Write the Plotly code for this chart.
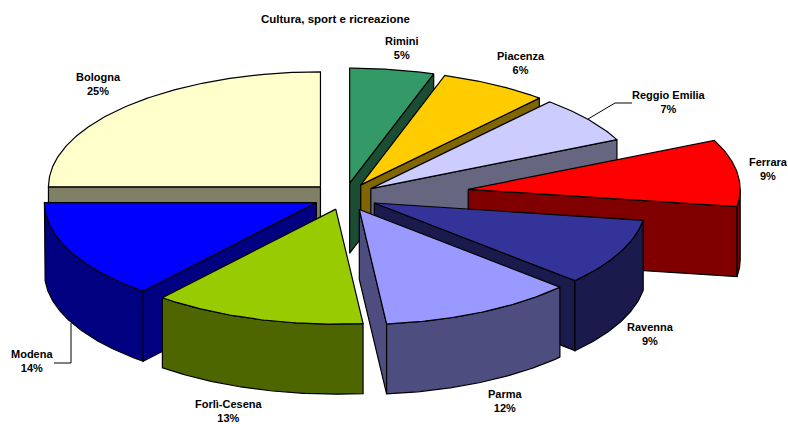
import math
import plotly.graph_objects as go

# --- data -------------------------------------------------------------
categories = ["Rimini", "Piacenza", "Reggio Emilia", "Ferrara", "Ravenna",
              "Parma", "Forlì-Cesena", "Modena", "Bologna"]
shares = [5.0, 6.4, 6.6, 9.4, 9.4, 11.6, 12.6, 14.0, 25.0]
title_text = "Cultura, sport e ricreazione"

# --- styling ----------------------------------------------------------
top_colors = ["#339966", "#FFCC00", "#CCCCFF", "#FF0000", "#333399",
              "#9999FF", "#99CC00", "#0000FF", "#FFFFCC"]
wall_colors = ["#1A4D33", "#806600", "#666680", "#800000", "#1A1A4D",
               "#4D4D80", "#4D6600", "#000080", "#808066"]
explode = [33, 33, 33, 125, 33, 33, 30, 31, 34]
label_pos = [(402, 48), (521, 63), (669, 102), (768, 169), (650, 334),
             (505, 401), (229, 411), (32, 361), (98, 84)]
draw_order = [8, 7, 6, 0, 1, 2, 3, 4, 5]
CX, CY, RX, RY, DEPTH = 344.5, 197, 272, 115, 70


def pt(ax, ay, deg):
    r = math.radians(deg)
    return ax + RX * math.sin(r), ay - RY * math.cos(r)


def add_poly(fig, pts, color, name):
    xs = [p[0] for p in pts] + [pts[0][0]]
    ys = [p[1] for p in pts] + [pts[0][1]]
    fig.add_trace(go.Scatter(x=xs, y=ys, mode="lines", fill="toself",
                             fillcolor=color,
                             line=dict(color="#000000", width=1.2),
                             name=name, showlegend=False, hoverinfo="name"))


def arc(ax, ay, a, b):
    n = max(2, int(abs(b - a)) * 2)
    return [pt(ax, ay, a + (b - a) * i / n) for i in range(n + 1)]


total = sum(shares)
starts, cum = [], 0.0
for s in shares:
    starts.append(cum / total * 360)
    cum += s

fig = go.Figure()
for i in draw_order:
    a = starts[i]
    b = a + shares[i] / total * 360
    mid = math.radians((a + b) / 2)
    ax = CX + explode[i] * math.sin(mid)
    ay = CY - explode[i] * RY / RX * math.cos(mid)
    name = categories[i]
    wall = wall_colors[i]

    # start radial wall faces the viewer for 180 < a < 360
    if 180 < a < 360:
        e = pt(ax, ay, a)
        add_poly(fig, [(ax, ay), e, (e[0], e[1] + DEPTH), (ax, ay + DEPTH)], wall, name)
    # end radial wall faces the viewer for 0 < b < 180
    if 0 < b < 180:
        e = pt(ax, ay, b)
        add_poly(fig, [(ax, ay), e, (e[0], e[1] + DEPTH), (ax, ay + DEPTH)], wall, name)
    # outer wall: only the part of the rim between 90 and 270 degrees
    lo, hi = max(a, 90), min(b, 270)
    if lo < hi:
        rim = arc(ax, ay, lo, hi)
        add_poly(fig, rim + [(x, y + DEPTH) for x, y in reversed(rim)], wall, name)
    # top face
    add_poly(fig, [(ax, ay)] + arc(ax, ay, a, b), top_colors[i], name)

annotations = [dict(x=335, y=19, text="<b>%s</b>" % title_text, showarrow=False,
                    xref="x", yref="y", font=dict(size=11.5, color="#000000",
                                                  family="Liberation Sans"))]
for name, s, (lx, ly) in zip(categories, shares, label_pos):
    annotations.append(dict(x=lx, y=ly, xref="x", yref="y", showarrow=False,
                            text="<b>%s<br>%d%%</b>" % (name, round(s)),
                            align="center",
                            font=dict(size=11, color="#000000",
                                      family="Liberation Sans")))

leader = dict(color="#000000", width=1)
shapes = [
    dict(type="path", path="M 588 119 L 615 103 L 632 103", line=leader, xref="x", yref="y"),
    dict(type="path", path="M 71 323 L 71 363 L 54 363", line=leader, xref="x", yref="y"),
]

fig.update_layout(
    width=788, height=424,
    margin=dict(l=0, r=0, t=0, b=0),
    paper_bgcolor="white", plot_bgcolor="white",
    xaxis=dict(range=[0, 788], visible=False, fixedrange=True),
    yaxis=dict(range=[424, 0], visible=False, fixedrange=True),
    annotations=annotations, shapes=shapes, showlegend=False,
)
fig.write_html("out.html", config=dict(displayModeBar=False),
               post_script="document.body.style.margin='0';document.documentElement.style.overflow='hidden';")
